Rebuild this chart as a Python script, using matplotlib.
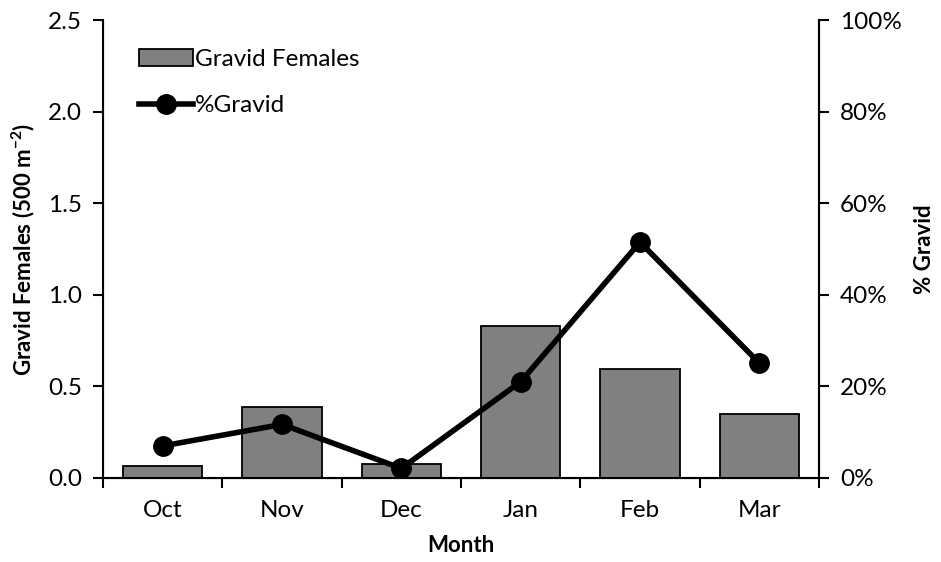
import numpy as np
import matplotlib.pyplot as plt
from matplotlib.ticker import FuncFormatter, FixedLocator

plt.rcParams['font.family'] = ['Lato', 'DejaVu Sans']
plt.rcParams['mathtext.fontset'] = 'custom'
plt.rcParams['mathtext.rm'] = 'Lato'
plt.rcParams['mathtext.bf'] = 'Lato:bold'

##### data
months = ['Oct', 'Nov', 'Dec', 'Jan', 'Feb', 'Mar']
gravid_females = [0.065, 0.385, 0.075, 0.83, 0.595, 0.35]   # per 500 m^-2
pct_gravid = [7.0, 11.7, 2.1, 21.0, 51.5, 25.1]              # %

x = np.arange(len(months))

fig = plt.figure(figsize=(9.41, 5.62), dpi=100)
ax = fig.add_axes([0.1095, 0.1495, 0.7608, 0.8149])

### bars on left axis
ax.bar(x, gravid_females, width=0.667, color='#808080', edgecolor='black',
       linewidth=1.3, label='Gravid Females', zorder=2)
ax.set_xlim(-0.5, len(months) - 0.5)
ax.set_ylim(0, 2.5)
ax.set_yticks(np.arange(0, 2.51, 0.5))
ax.yaxis.set_major_formatter(FuncFormatter(lambda v, p: '%.1f' % v))
ax.set_xticks(x)
ax.set_xticklabels(months)
ax.tick_params(axis='x', which='major', length=0, pad=16)
ax.xaxis.set_minor_locator(FixedLocator(np.arange(-0.5, len(months), 1.0)))
ax.tick_params(axis='x', which='minor', length=7, width=1.5, direction='out')
ax.tick_params(axis='y', length=7, width=1.5, direction='out', pad=8)
ax.tick_params(labelsize=17.5)
ax.spines['top'].set_visible(False)
for s in ['left', 'bottom', 'right']:
    ax.spines[s].set_linewidth(1.5)
ax.set_xlabel('Month', fontsize=16, fontweight='bold', labelpad=10)
ax.set_ylabel('Gravid Females (500 m$^{\\mathbf{-2}}$)', fontsize=16,
              fontweight='bold', labelpad=8)

### percent line on right axis
ax2 = ax.twinx()
ax2.plot(x, pct_gravid, color='black', linewidth=4, marker='o',
         markersize=14, label='%Gravid', zorder=3)
ax2.set_ylim(0, 100)
ax2.set_yticks(np.arange(0, 101, 20))
ax2.yaxis.set_major_formatter(FuncFormatter(lambda v, p: '%d%%' % v))
ax2.tick_params(axis='y', length=7, width=1.5, direction='out', pad=8, labelsize=17.5)
ax2.spines['top'].set_visible(False)
ax2.spines['right'].set_linewidth(1.5)
ax2.set_ylabel('% Gravid', fontsize=16, fontweight='bold', labelpad=9)

### legend
h1, l1 = ax.get_legend_handles_labels()
h2, l2 = ax2.get_legend_handles_labels()
ax2.legend(h1 + h2, l1 + l2, loc='upper left', bbox_to_anchor=(0.02, 0.985),
           frameon=False, fontsize=17.5, handlelength=2.2, handletextpad=0.1,
           labelspacing=1.05)

plt.savefig('out.png', dpi=100)
